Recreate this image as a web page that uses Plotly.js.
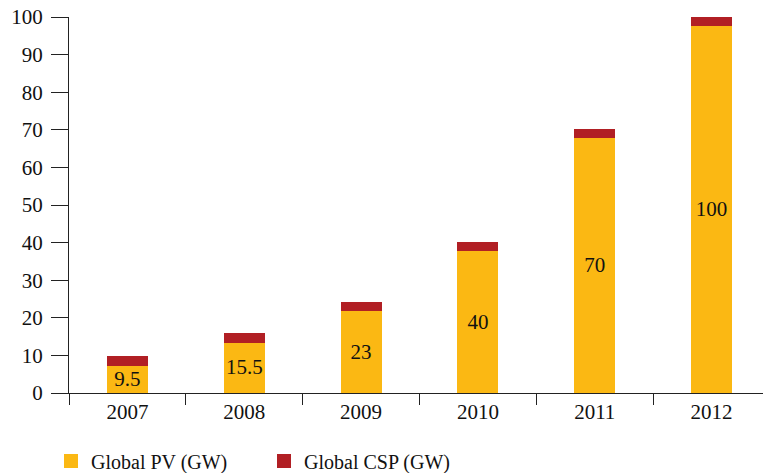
<!DOCTYPE html>
<html>
<head>
<meta charset="utf-8">
<script src="https://cdn.plot.ly/plotly-3.0.1.min.js"></script>
<style>html,body{margin:0;padding:0;background:#fff;}#chart{width:763px;height:473px;}</style>
</head>
<body>
<div id="chart"></div>
<script>
const years = ['2007', '2008', '2009', '2010', '2011', '2012'];
const pvValues = [7.5, 13.6, 22, 38, 68, 98];
const cspValues = [2, 2, 2, 2, 2, 2];
const barLabels = ['9.5', '15.5', '23', '40', '70', '100'];
const yTicks = [0, 10, 20, 30, 40, 50, 60, 70, 80, 90, 100];

const PV_COLOR = '#FBB813';
const CSP_COLOR = '#B11F24';
const FONT = 'Liberation Serif, Times New Roman, serif';

const traces = [
  {
    type: 'bar', name: 'Global PV (GW)', x: years, y: pvValues,
    marker: {color: PV_COLOR, line: {color: PV_COLOR, width: 2}},
    text: barLabels, textposition: 'inside', insidetextanchor: 'middle',
    textangle: 0, constraintext: 'none',
    textfont: {family: FONT, size: 21, color: '#111'}
  },
  {
    type: 'bar', name: 'Global CSP (GW)', x: years, y: cspValues,
    marker: {color: CSP_COLOR, line: {color: CSP_COLOR, width: 2}},
    textposition: 'none'
  }
];

const layout = {
  width: 763, height: 473,
  margin: {l: 69, r: 0, t: 17, b: 80},
  barmode: 'stack',
  bargap: 0.666,
  paper_bgcolor: '#fff', plot_bgcolor: '#fff',
  font: {family: FONT, size: 21, color: '#111'},
  showlegend: true,
  legend: {
    orientation: 'h', xref: 'container', yref: 'container',
    x: 51 / 763, xanchor: 'left', y: 1 - 461 / 473, yanchor: 'middle',
    font: {family: FONT, size: 20, color: '#111'},
    entrywidth: 168, entrywidthmode: 'pixels',
    traceorder: 'normal'
  },
  xaxis: {
    type: 'category', range: [-0.5, 5.44],
    showline: true, linecolor: '#222', linewidth: 1,
    ticks: 'outside', tickson: 'boundaries', ticklen: 11, tickcolor: '#222', tickwidth: 1,
    showgrid: false, zeroline: false,
    tickfont: {family: FONT, size: 21, color: '#111'}
  },
  yaxis: {
    range: [0, 100], tickvals: yTicks,
    showline: true, linecolor: '#222', linewidth: 1,
    ticks: 'outside', ticklen: 17, tickcolor: '#222', tickwidth: 1,
    showgrid: false, zeroline: false,
    ticklabelstandoff: 4,
    tickfont: {family: FONT, size: 21, color: '#111'}
  }
};

Plotly.newPlot('chart', traces, layout, {staticPlot: true, displayModeBar: false});
</script>
</body>
</html>
